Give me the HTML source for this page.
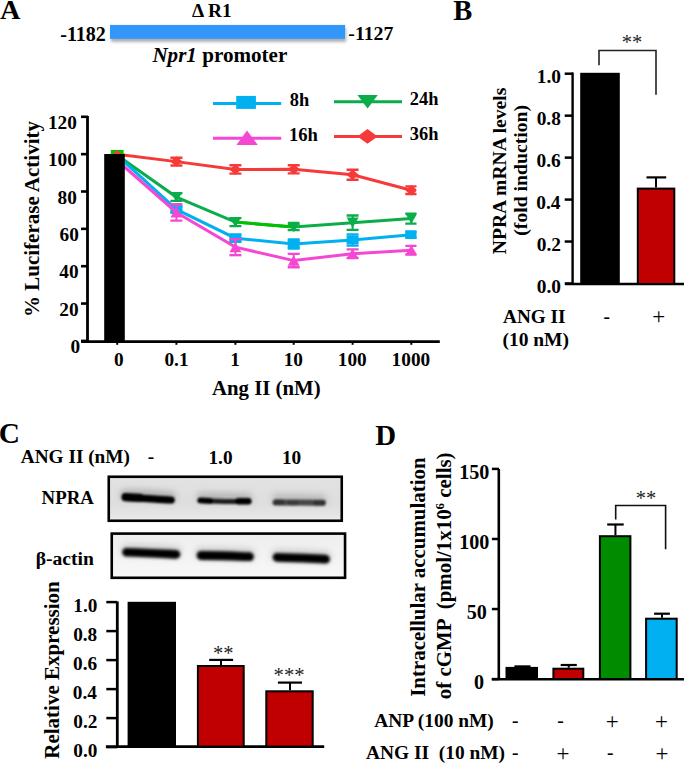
<!DOCTYPE html>
<html><head><meta charset="utf-8"><style>html,body{margin:0;padding:0;background:#fff;}svg{display:block;}</style></head>
<body><svg width="685" height="763" viewBox="0 0 685 763"><defs>
<filter id="sh" x="-5%" y="-50%" width="110%" height="250%"><feGaussianBlur in="SourceAlpha" stdDeviation="1.8"/><feOffset dx="0.8" dy="2.8" result="o"/><feFlood flood-color="#000" flood-opacity="0.32"/><feComposite in2="o" operator="in"/><feMerge><feMergeNode/><feMergeNode in="SourceGraphic"/></feMerge></filter>
<filter id="bl" filterUnits="userSpaceOnUse" x="100" y="470" width="260" height="120"><feGaussianBlur stdDeviation="1.1"/></filter><filter id="bl3" filterUnits="userSpaceOnUse" x="100" y="470" width="260" height="120"><feGaussianBlur stdDeviation="1.45"/></filter><filter id="bl2" filterUnits="userSpaceOnUse" x="100" y="470" width="260" height="120"><feGaussianBlur stdDeviation="3"/></filter>
<clipPath id="clipA"><rect x="0" y="80" width="416.5" height="300"/></clipPath>
<linearGradient id="g1" x1="0" y1="0" x2="0" y2="1"><stop offset="0" stop-color="#e2e2e2"/><stop offset="0.6" stop-color="#dedede"/><stop offset="0.92" stop-color="#e6e6e6"/><stop offset="1" stop-color="#f4f4f4"/></linearGradient>
<linearGradient id="g2" x1="0" y1="0" x2="0" y2="1"><stop offset="0" stop-color="#eeeeee"/><stop offset="1" stop-color="#f8f8f8"/></linearGradient>
</defs>
<rect width="685" height="763" fill="#fff"/>
<text x="-0.08" y="18.80" font-family="Liberation Serif" font-weight="bold" font-style="normal" font-size="28.3" fill="#000" style="white-space:pre">A</text>
<text x="192.01" y="17.20" font-family="Liberation Serif" font-weight="bold" font-style="normal" font-size="19.4" fill="#000" style="white-space:pre">Δ R1</text>
<text x="60.30" y="41.20" font-family="Liberation Serif" font-weight="bold" font-style="normal" font-size="20" fill="#000" style="white-space:pre">-1182</text>
<text x="348.31" y="40.00" font-family="Liberation Serif" font-weight="bold" font-style="normal" font-size="19.8" fill="#000" style="white-space:pre">-1127</text>
<rect x="110.00" y="24.90" width="235.10" height="14.00" fill="#3396fb" filter="url(#sh)"/>
<text x="152.38" y="62.2" font-family="Liberation Serif" font-weight="bold" font-size="21.1"><tspan font-style="italic">Npr1</tspan> promoter</text>
<line x1="213.00" y1="103.50" x2="281.20" y2="103.50" stroke="#00b0f0" stroke-width="3"/>
<rect x="236.20" y="95.90" width="19.70" height="13.00" fill="#00b0f0"/>
<text x="289.86" y="105.50" font-family="Liberation Serif" font-weight="bold" font-style="normal" font-size="18.4" fill="#000" style="white-space:pre">8h</text>
<line x1="213.00" y1="138.20" x2="281.20" y2="138.20" stroke="#f548d2" stroke-width="3"/>
<path d="M236.4,144.9 L247,130.6 L257.8,144.9 Z" fill="#f548d2" stroke="none" stroke-width="0"/>
<text x="289.01" y="140.70" font-family="Liberation Serif" font-weight="bold" font-style="normal" font-size="18.6" fill="#000" style="white-space:pre">16h</text>
<line x1="334.00" y1="101.80" x2="402.00" y2="101.80" stroke="#0aad4a" stroke-width="3"/>
<path d="M357.4,94.9 L367.6,108.6 L377.8,94.9 Z" fill="#0aad4a" stroke="none" stroke-width="0"/>
<text x="409.86" y="104.70" font-family="Liberation Serif" font-weight="bold" font-style="normal" font-size="18.4" fill="#000" style="white-space:pre">24h</text>
<line x1="334.00" y1="136.40" x2="402.00" y2="136.40" stroke="#f63a3a" stroke-width="3"/>
<path d="M357.4,136.4 L367.5,129.1 L377.6,136.4 L367.5,143.7 Z" fill="#f63a3a" stroke="none" stroke-width="0"/>
<text x="409.86" y="139.60" font-family="Liberation Serif" font-weight="bold" font-style="normal" font-size="18.4" fill="#000" style="white-space:pre">36h</text>
<line x1="81.00" y1="340.90" x2="88.00" y2="340.90" stroke="#000" stroke-width="2.6"/>
<text x="70.62" y="353.10" font-family="Liberation Serif" font-weight="bold" font-style="normal" font-size="19.3" fill="#000" style="white-space:pre">0</text>
<line x1="81.00" y1="303.55" x2="88.00" y2="303.55" stroke="#000" stroke-width="2.6"/>
<text x="59.37" y="315.75" font-family="Liberation Serif" font-weight="bold" font-style="normal" font-size="19.3" fill="#000" style="white-space:pre">20</text>
<line x1="81.00" y1="266.20" x2="88.00" y2="266.20" stroke="#000" stroke-width="2.6"/>
<text x="59.37" y="278.40" font-family="Liberation Serif" font-weight="bold" font-style="normal" font-size="19.3" fill="#000" style="white-space:pre">40</text>
<line x1="81.00" y1="228.85" x2="88.00" y2="228.85" stroke="#000" stroke-width="2.6"/>
<text x="59.57" y="241.05" font-family="Liberation Serif" font-weight="bold" font-style="normal" font-size="19.3" fill="#000" style="white-space:pre">60</text>
<line x1="81.00" y1="191.50" x2="88.00" y2="191.50" stroke="#000" stroke-width="2.6"/>
<text x="57.57" y="203.70" font-family="Liberation Serif" font-weight="bold" font-style="normal" font-size="19.3" fill="#000" style="white-space:pre">80</text>
<line x1="81.00" y1="154.15" x2="88.00" y2="154.15" stroke="#000" stroke-width="2.6"/>
<text x="47.92" y="166.35" font-family="Liberation Serif" font-weight="bold" font-style="normal" font-size="19.3" fill="#000" style="white-space:pre">100</text>
<line x1="81.00" y1="116.80" x2="88.00" y2="116.80" stroke="#000" stroke-width="2.6"/>
<text x="47.92" y="129.00" font-family="Liberation Serif" font-weight="bold" font-style="normal" font-size="19.3" fill="#000" style="white-space:pre">120</text>
<line x1="87.50" y1="116.00" x2="87.50" y2="342.60" stroke="#000" stroke-width="2.8"/>
<line x1="81.00" y1="341.60" x2="439.80" y2="341.60" stroke="#000" stroke-width="2.6"/>
<line x1="117.20" y1="342.00" x2="117.20" y2="344.80" stroke="#000" stroke-width="2"/>
<text x="113.88" y="365.60" font-family="Liberation Serif" font-weight="bold" font-style="normal" font-size="19.3" fill="#000" style="white-space:pre">0</text>
<line x1="176.40" y1="342.00" x2="176.40" y2="344.80" stroke="#000" stroke-width="2"/>
<text x="164.43" y="365.60" font-family="Liberation Serif" font-weight="bold" font-style="normal" font-size="19.3" fill="#000" style="white-space:pre">0.1</text>
<line x1="235.40" y1="342.00" x2="235.40" y2="344.80" stroke="#000" stroke-width="2"/>
<text x="230.29" y="365.60" font-family="Liberation Serif" font-weight="bold" font-style="normal" font-size="19.3" fill="#000" style="white-space:pre">1</text>
<line x1="293.70" y1="342.00" x2="293.70" y2="344.80" stroke="#000" stroke-width="2"/>
<text x="283.66" y="365.60" font-family="Liberation Serif" font-weight="bold" font-style="normal" font-size="19.3" fill="#000" style="white-space:pre">10</text>
<line x1="352.60" y1="342.00" x2="352.60" y2="344.80" stroke="#000" stroke-width="2"/>
<text x="337.74" y="365.60" font-family="Liberation Serif" font-weight="bold" font-style="normal" font-size="19.3" fill="#000" style="white-space:pre">100</text>
<line x1="411.30" y1="342.00" x2="411.30" y2="344.80" stroke="#000" stroke-width="2"/>
<text x="391.61" y="365.60" font-family="Liberation Serif" font-weight="bold" font-style="normal" font-size="19.3" fill="#000" style="white-space:pre">1000</text>
<text x="212.02" y="395.00" font-family="Liberation Serif" font-weight="bold" font-style="normal" font-size="20.8" fill="#000" style="white-space:pre">Ang II (nM)</text>
<text transform="translate(38.80,316.96) rotate(-90)" x="0" y="0" font-family="Liberation Serif" font-weight="bold" font-style="normal" font-size="21" fill="#000">% Luciferase Activity</text>
<g clip-path="url(#clipA)">
<polyline points="117.20,154.15 176.40,161.62 235.40,169.46 293.70,169.28 352.60,174.69 411.30,190.19" fill="none" stroke="#f63a3a" stroke-width="3"/>
<line x1="176.40" y1="157.72" x2="176.40" y2="165.52" stroke="#f63a3a" stroke-width="2"/>
<line x1="170.40" y1="157.72" x2="182.40" y2="157.72" stroke="#f63a3a" stroke-width="2.4"/>
<line x1="170.40" y1="165.52" x2="182.40" y2="165.52" stroke="#f63a3a" stroke-width="2.4"/>
<path d="M170.40,161.62 L176.40,156.37 L182.40,161.62 L176.40,166.87 Z" fill="#f63a3a" stroke="none" stroke-width="0"/>
<line x1="235.40" y1="165.26" x2="235.40" y2="173.66" stroke="#f63a3a" stroke-width="2"/>
<line x1="229.40" y1="165.26" x2="241.40" y2="165.26" stroke="#f63a3a" stroke-width="2.4"/>
<line x1="229.40" y1="173.66" x2="241.40" y2="173.66" stroke="#f63a3a" stroke-width="2.4"/>
<path d="M229.40,169.46 L235.40,164.21 L241.40,169.46 L235.40,174.71 Z" fill="#f63a3a" stroke="none" stroke-width="0"/>
<line x1="293.70" y1="165.18" x2="293.70" y2="173.38" stroke="#f63a3a" stroke-width="2"/>
<line x1="287.70" y1="165.18" x2="299.70" y2="165.18" stroke="#f63a3a" stroke-width="2.4"/>
<line x1="287.70" y1="173.38" x2="299.70" y2="173.38" stroke="#f63a3a" stroke-width="2.4"/>
<path d="M287.70,169.28 L293.70,164.03 L299.70,169.28 L293.70,174.53 Z" fill="#f63a3a" stroke="none" stroke-width="0"/>
<line x1="352.60" y1="169.69" x2="352.60" y2="179.69" stroke="#f63a3a" stroke-width="2"/>
<line x1="346.60" y1="169.69" x2="358.60" y2="169.69" stroke="#f63a3a" stroke-width="2.4"/>
<line x1="346.60" y1="179.69" x2="358.60" y2="179.69" stroke="#f63a3a" stroke-width="2.4"/>
<path d="M346.60,174.69 L352.60,169.44 L358.60,174.69 L352.60,179.94 Z" fill="#f63a3a" stroke="none" stroke-width="0"/>
<line x1="411.30" y1="186.39" x2="411.30" y2="193.99" stroke="#f63a3a" stroke-width="2"/>
<line x1="405.30" y1="186.39" x2="417.30" y2="186.39" stroke="#f63a3a" stroke-width="2.4"/>
<line x1="405.30" y1="193.99" x2="417.30" y2="193.99" stroke="#f63a3a" stroke-width="2.4"/>
<path d="M405.30,190.19 L411.30,184.94 L417.30,190.19 L411.30,195.44 Z" fill="#f63a3a" stroke="none" stroke-width="0"/>
<polyline points="117.20,155.27 176.40,197.10 235.40,222.13 293.70,226.98 352.60,222.69 411.30,218.58" fill="none" stroke="#0aad4a" stroke-width="3"/>
<line x1="235.40" y1="222.13" x2="293.70" y2="226.98" stroke="#00c000" stroke-width="3"/>
<line x1="176.40" y1="193.30" x2="176.40" y2="200.90" stroke="#0aad4a" stroke-width="2"/>
<line x1="170.40" y1="193.30" x2="182.40" y2="193.30" stroke="#0aad4a" stroke-width="2.4"/>
<line x1="170.40" y1="200.90" x2="182.40" y2="200.90" stroke="#0aad4a" stroke-width="2.4"/>
<path d="M170.40,191.95 L176.40,202.25 L182.40,191.95 Z" fill="#0aad4a" stroke="none" stroke-width="0"/>
<line x1="235.40" y1="218.13" x2="235.40" y2="226.13" stroke="#0aad4a" stroke-width="2"/>
<line x1="229.40" y1="218.13" x2="241.40" y2="218.13" stroke="#0aad4a" stroke-width="2.4"/>
<line x1="229.40" y1="226.13" x2="241.40" y2="226.13" stroke="#0aad4a" stroke-width="2.4"/>
<path d="M229.40,216.98 L235.40,227.28 L241.40,216.98 Z" fill="#0aad4a" stroke="none" stroke-width="0"/>
<line x1="293.70" y1="223.88" x2="293.70" y2="230.08" stroke="#0aad4a" stroke-width="2"/>
<line x1="287.70" y1="223.88" x2="299.70" y2="223.88" stroke="#0aad4a" stroke-width="2.4"/>
<line x1="287.70" y1="230.08" x2="299.70" y2="230.08" stroke="#0aad4a" stroke-width="2.4"/>
<path d="M287.70,221.83 L293.70,232.13 L299.70,221.83 Z" fill="#0aad4a" stroke="none" stroke-width="0"/>
<line x1="352.60" y1="215.49" x2="352.60" y2="229.89" stroke="#0aad4a" stroke-width="2"/>
<line x1="346.60" y1="215.49" x2="358.60" y2="215.49" stroke="#0aad4a" stroke-width="2.4"/>
<line x1="346.60" y1="229.89" x2="358.60" y2="229.89" stroke="#0aad4a" stroke-width="2.4"/>
<path d="M346.60,217.54 L352.60,227.84 L358.60,217.54 Z" fill="#0aad4a" stroke="none" stroke-width="0"/>
<line x1="411.30" y1="213.58" x2="411.30" y2="223.58" stroke="#0aad4a" stroke-width="2"/>
<line x1="405.30" y1="213.58" x2="417.30" y2="213.58" stroke="#0aad4a" stroke-width="2.4"/>
<line x1="405.30" y1="223.58" x2="417.30" y2="223.58" stroke="#0aad4a" stroke-width="2.4"/>
<path d="M405.30,213.43 L411.30,223.73 L417.30,213.43 Z" fill="#0aad4a" stroke="none" stroke-width="0"/>
<polyline points="117.20,155.46 176.40,209.43 235.40,238.19 293.70,243.98 352.60,240.05 411.30,234.64" fill="none" stroke="#00b0f0" stroke-width="3"/>
<line x1="176.40" y1="206.43" x2="176.40" y2="212.43" stroke="#00b0f0" stroke-width="2"/>
<line x1="170.40" y1="206.43" x2="182.40" y2="206.43" stroke="#00b0f0" stroke-width="2.4"/>
<line x1="170.40" y1="212.43" x2="182.40" y2="212.43" stroke="#00b0f0" stroke-width="2.4"/>
<rect x="170.40" y="205.13" width="12.00" height="8.60" fill="#00b0f0"/>
<line x1="235.40" y1="234.49" x2="235.40" y2="241.89" stroke="#00b0f0" stroke-width="2"/>
<line x1="229.40" y1="234.49" x2="241.40" y2="234.49" stroke="#00b0f0" stroke-width="2.4"/>
<line x1="229.40" y1="241.89" x2="241.40" y2="241.89" stroke="#00b0f0" stroke-width="2.4"/>
<rect x="229.40" y="233.89" width="12.00" height="8.60" fill="#00b0f0"/>
<line x1="293.70" y1="239.48" x2="293.70" y2="248.48" stroke="#00b0f0" stroke-width="2"/>
<line x1="287.70" y1="239.48" x2="299.70" y2="239.48" stroke="#00b0f0" stroke-width="2.4"/>
<line x1="287.70" y1="248.48" x2="299.70" y2="248.48" stroke="#00b0f0" stroke-width="2.4"/>
<rect x="287.70" y="239.68" width="12.00" height="8.60" fill="#00b0f0"/>
<line x1="352.60" y1="234.45" x2="352.60" y2="245.65" stroke="#00b0f0" stroke-width="2"/>
<line x1="346.60" y1="234.45" x2="358.60" y2="234.45" stroke="#00b0f0" stroke-width="2.4"/>
<line x1="346.60" y1="245.65" x2="358.60" y2="245.65" stroke="#00b0f0" stroke-width="2.4"/>
<rect x="346.60" y="235.75" width="12.00" height="8.60" fill="#00b0f0"/>
<line x1="411.30" y1="231.84" x2="411.30" y2="237.44" stroke="#00b0f0" stroke-width="2"/>
<line x1="405.30" y1="231.84" x2="417.30" y2="231.84" stroke="#00b0f0" stroke-width="2.4"/>
<line x1="405.30" y1="237.44" x2="417.30" y2="237.44" stroke="#00b0f0" stroke-width="2.4"/>
<rect x="405.30" y="230.34" width="12.00" height="8.60" fill="#00b0f0"/>
<polyline points="117.20,160.50 176.40,212.42 235.40,247.15 293.70,260.60 352.60,253.69 411.30,250.14" fill="none" stroke="#f548d2" stroke-width="3"/>
<line x1="176.40" y1="204.22" x2="176.40" y2="220.62" stroke="#f548d2" stroke-width="2"/>
<line x1="170.40" y1="204.22" x2="182.40" y2="204.22" stroke="#f548d2" stroke-width="2.4"/>
<line x1="170.40" y1="220.62" x2="182.40" y2="220.62" stroke="#f548d2" stroke-width="2.4"/>
<path d="M170.40,217.57 L176.40,207.27 L182.40,217.57 Z" fill="#f548d2" stroke="none" stroke-width="0"/>
<line x1="235.40" y1="239.15" x2="235.40" y2="255.15" stroke="#f548d2" stroke-width="2"/>
<line x1="229.40" y1="239.15" x2="241.40" y2="239.15" stroke="#f548d2" stroke-width="2.4"/>
<line x1="229.40" y1="255.15" x2="241.40" y2="255.15" stroke="#f548d2" stroke-width="2.4"/>
<path d="M229.40,252.30 L235.40,242.00 L241.40,252.30 Z" fill="#f548d2" stroke="none" stroke-width="0"/>
<line x1="293.70" y1="253.90" x2="293.70" y2="267.30" stroke="#f548d2" stroke-width="2"/>
<line x1="287.70" y1="253.90" x2="299.70" y2="253.90" stroke="#f548d2" stroke-width="2.4"/>
<line x1="287.70" y1="267.30" x2="299.70" y2="267.30" stroke="#f548d2" stroke-width="2.4"/>
<path d="M287.70,265.75 L293.70,255.45 L299.70,265.75 Z" fill="#f548d2" stroke="none" stroke-width="0"/>
<line x1="352.60" y1="249.39" x2="352.60" y2="257.99" stroke="#f548d2" stroke-width="2"/>
<line x1="346.60" y1="249.39" x2="358.60" y2="249.39" stroke="#f548d2" stroke-width="2.4"/>
<line x1="346.60" y1="257.99" x2="358.60" y2="257.99" stroke="#f548d2" stroke-width="2.4"/>
<path d="M346.60,258.84 L352.60,248.54 L358.60,258.84 Z" fill="#f548d2" stroke="none" stroke-width="0"/>
<line x1="411.30" y1="245.84" x2="411.30" y2="254.44" stroke="#f548d2" stroke-width="2"/>
<line x1="405.30" y1="245.84" x2="417.30" y2="245.84" stroke="#f548d2" stroke-width="2.4"/>
<line x1="405.30" y1="254.44" x2="417.30" y2="254.44" stroke="#f548d2" stroke-width="2.4"/>
<path d="M405.30,255.29 L411.30,244.99 L417.30,255.29 Z" fill="#f548d2" stroke="none" stroke-width="0"/>
<rect x="110.80" y="149.90" width="12.80" height="4.50" fill="#00c000"/>
<path d="M111.70,155.20 L117.20,149.95 L122.70,155.20 L117.20,160.45 Z" fill="#f63a3a" stroke="none" stroke-width="0"/>
</g>
<rect x="104.20" y="154.00" width="20.60" height="187.60" fill="#000"/>
<text x="453.27" y="19.60" font-family="Liberation Serif" font-weight="bold" font-style="normal" font-size="28.5" fill="#000" style="white-space:pre">B</text>
<line x1="564.70" y1="283.50" x2="573.00" y2="283.50" stroke="#000" stroke-width="2.5"/>
<text x="536.73" y="292.70" font-family="Liberation Serif" font-weight="bold" font-style="normal" font-size="19.4" fill="#000" style="white-space:pre">0.0</text>
<line x1="564.70" y1="241.54" x2="573.00" y2="241.54" stroke="#000" stroke-width="2.5"/>
<text x="536.82" y="250.74" font-family="Liberation Serif" font-weight="bold" font-style="normal" font-size="19.4" fill="#000" style="white-space:pre">0.2</text>
<line x1="564.70" y1="199.58" x2="573.00" y2="199.58" stroke="#000" stroke-width="2.5"/>
<text x="536.34" y="208.78" font-family="Liberation Serif" font-weight="bold" font-style="normal" font-size="19.4" fill="#000" style="white-space:pre">0.4</text>
<line x1="564.70" y1="157.62" x2="573.00" y2="157.62" stroke="#000" stroke-width="2.5"/>
<text x="536.53" y="166.82" font-family="Liberation Serif" font-weight="bold" font-style="normal" font-size="19.4" fill="#000" style="white-space:pre">0.6</text>
<line x1="564.70" y1="115.66" x2="573.00" y2="115.66" stroke="#000" stroke-width="2.5"/>
<text x="536.63" y="124.86" font-family="Liberation Serif" font-weight="bold" font-style="normal" font-size="19.4" fill="#000" style="white-space:pre">0.8</text>
<line x1="564.70" y1="73.70" x2="573.00" y2="73.70" stroke="#000" stroke-width="2.5"/>
<text x="536.73" y="82.90" font-family="Liberation Serif" font-weight="bold" font-style="normal" font-size="19.4" fill="#000" style="white-space:pre">1.0</text>
<line x1="572.60" y1="72.50" x2="572.60" y2="285.00" stroke="#000" stroke-width="2.4"/>
<line x1="565.00" y1="284.00" x2="684.00" y2="284.00" stroke="#000" stroke-width="2.6"/>
<rect x="580.20" y="72.80" width="39.60" height="211.20" fill="#000"/>
<rect x="637.80" y="188.60" width="36.50" height="95.40" fill="#c00000" stroke="#000" stroke-width="2"/>
<line x1="656.00" y1="187.60" x2="656.00" y2="177.40" stroke="#000" stroke-width="2"/>
<line x1="646.50" y1="177.40" x2="666.20" y2="177.40" stroke="#000" stroke-width="2.2"/>
<path d="M599,65.3 L599,50.5 L656,50.5 L656,94.7" fill="none" stroke="#222" stroke-width="1.6"/>
<text x="621.77" y="48.83" font-family="Liberation Serif" font-weight="normal" font-style="normal" font-size="20.5" fill="#222" style="white-space:pre">**</text>
<text transform="translate(506.20,254.15) rotate(-90)" x="0" y="0" font-family="Liberation Serif" font-weight="bold" font-style="normal" font-size="19.6" fill="#000">NPRA mRNA levels</text>
<text transform="translate(527.20,235.70) rotate(-90)" x="0" y="0" font-family="Liberation Serif" font-weight="bold" font-style="normal" font-size="19.7" fill="#000">(fold induction)</text>
<text x="503.11" y="322.90" font-family="Liberation Serif" font-weight="bold" font-style="normal" font-size="19.2" fill="#000" style="white-space:pre">ANG II</text>
<text x="502.42" y="345.50" font-family="Liberation Serif" font-weight="bold" font-style="normal" font-size="19.5" fill="#000" style="white-space:pre">(10 nM)</text>
<text x="603.48" y="323.00" font-family="Liberation Serif" font-weight="bold" font-style="normal" font-size="19.5" fill="#000" style="white-space:pre">-</text>
<text x="652.30" y="324.20" font-family="Liberation Serif" font-weight="normal" font-style="normal" font-size="23" fill="#000" style="white-space:pre">+</text>
<text x="-1.17" y="443.31" font-family="Liberation Serif" font-weight="bold" font-style="normal" font-size="29.3" fill="#000" style="white-space:pre">C</text>
<text x="20.81" y="462.50" font-family="Liberation Serif" font-weight="bold" font-style="normal" font-size="19.25" fill="#000" style="white-space:pre">ANG II (nM)</text>
<text x="147.82" y="462.50" font-family="Liberation Serif" font-weight="bold" font-style="normal" font-size="19.3" fill="#000" style="white-space:pre">-</text>
<text x="208.45" y="463.50" font-family="Liberation Serif" font-weight="bold" font-style="normal" font-size="19.3" fill="#000" style="white-space:pre">1.0</text>
<text x="281.96" y="463.50" font-family="Liberation Serif" font-weight="bold" font-style="normal" font-size="19.3" fill="#000" style="white-space:pre">10</text>
<text x="41.62" y="504.10" font-family="Liberation Serif" font-weight="bold" font-style="normal" font-size="18.8" fill="#000" style="white-space:pre">NPRA</text>
<text x="35.72" y="565.00" font-family="Liberation Serif" font-weight="bold" font-style="normal" font-size="19.6" fill="#000" style="white-space:pre">β-actin</text>
<rect x="108.75" y="476.75" width="233" height="44" fill="url(#g1)" stroke="#000" stroke-width="2.6"/>
<rect x="111.75" y="533.6" width="233.3" height="44.2" fill="url(#g2)" stroke="#000" stroke-width="2.6"/>
<g filter="url(#bl2)" opacity="0.4">
<path d="M125,494.5 C140,494.5 160,495.5 171,497" fill="none" stroke="#666" stroke-width="10" stroke-linecap="round"/>
<path d="M201,497 C215,497 235,497.5 248,498" fill="none" stroke="#777" stroke-width="9" stroke-linecap="round"/>
<path d="M277,498.5 C290,498.5 310,499 322,499.5" fill="none" stroke="#888" stroke-width="10" stroke-linecap="round"/>
<path d="M127,550 C145,550 165,551 176,552" fill="none" stroke="#999" stroke-width="12" stroke-linecap="round"/>
<path d="M201,553 C220,553 235,553.5 249.5,554" fill="none" stroke="#999" stroke-width="12" stroke-linecap="round"/>
<path d="M277,555 C295,555 310,556 325.5,556.5" fill="none" stroke="#999" stroke-width="12" stroke-linecap="round"/>
</g>
<g filter="url(#bl)">
<path d="M125.5,497.4 C140,498 160,499.5 171.2,500" fill="none" stroke="#000" stroke-width="7.2" stroke-linecap="round"/>
<path d="M125.5,497.2 L140,497.8" fill="none" stroke="#000" stroke-width="8.2" stroke-linecap="round"/>
<path d="M200,500.6 C212,501.2 225,501.8 238,501.5" fill="none" stroke="#1c1c1c" stroke-width="5" stroke-linecap="round"/>
<path d="M200.5,500.4 L210,500.8" fill="none" stroke="#000" stroke-width="5.8" stroke-linecap="round"/>
<path d="M238.5,501.3 L248.3,501.3" fill="none" stroke="#000" stroke-width="6.6" stroke-linecap="round"/>
<path d="M275.5,502.4 C290,502.4 310,502.6 323,502.8" fill="none" stroke="#474747" stroke-width="6" stroke-linecap="round"/>
<path d="M276,502.3 L282,502.3" fill="none" stroke="#333" stroke-width="5.4" stroke-linecap="round"/>
<path d="M290,502.6 L296,502.6" fill="none" stroke="#383838" stroke-width="5.2" stroke-linecap="round"/>
<path d="M316,502.9 L322.5,502.9" fill="none" stroke="#333" stroke-width="5.4" stroke-linecap="round"/>
</g>
<g filter="url(#bl3)">
<path d="M126.5,552.2 C145,552.6 165,553.8 176,554.4" fill="none" stroke="#000" stroke-width="8.6" stroke-linecap="round"/>
<path d="M201,555.5 C220,555.6 235,556.2 249.5,556.7" fill="none" stroke="#000" stroke-width="8.8" stroke-linecap="round"/>
<path d="M277,557.3 C295,557.6 310,558.5 325.5,559.2" fill="none" stroke="#000" stroke-width="8.8" stroke-linecap="round"/>
</g>
<line x1="106.30" y1="747.10" x2="117.30" y2="747.10" stroke="#000" stroke-width="2.5"/>
<text x="73.25" y="757.20" font-family="Liberation Serif" font-weight="bold" font-style="normal" font-size="19.3" fill="#000" style="white-space:pre">0.0</text>
<line x1="106.30" y1="718.10" x2="117.30" y2="718.10" stroke="#000" stroke-width="2.5"/>
<text x="73.34" y="728.20" font-family="Liberation Serif" font-weight="bold" font-style="normal" font-size="19.3" fill="#000" style="white-space:pre">0.2</text>
<line x1="106.30" y1="689.10" x2="117.30" y2="689.10" stroke="#000" stroke-width="2.5"/>
<text x="72.86" y="699.20" font-family="Liberation Serif" font-weight="bold" font-style="normal" font-size="19.3" fill="#000" style="white-space:pre">0.4</text>
<line x1="106.30" y1="660.10" x2="117.30" y2="660.10" stroke="#000" stroke-width="2.5"/>
<text x="73.05" y="670.20" font-family="Liberation Serif" font-weight="bold" font-style="normal" font-size="19.3" fill="#000" style="white-space:pre">0.6</text>
<line x1="106.30" y1="631.10" x2="117.30" y2="631.10" stroke="#000" stroke-width="2.5"/>
<text x="73.15" y="641.20" font-family="Liberation Serif" font-weight="bold" font-style="normal" font-size="19.3" fill="#000" style="white-space:pre">0.8</text>
<line x1="106.30" y1="602.10" x2="117.30" y2="602.10" stroke="#000" stroke-width="2.5"/>
<text x="73.25" y="612.20" font-family="Liberation Serif" font-weight="bold" font-style="normal" font-size="19.3" fill="#000" style="white-space:pre">1.0</text>
<line x1="117.30" y1="601.50" x2="117.30" y2="748.00" stroke="#000" stroke-width="2.8"/>
<line x1="105.90" y1="746.60" x2="324.20" y2="746.60" stroke="#000" stroke-width="2.6"/>
<rect x="127.60" y="601.80" width="48.40" height="145.00" fill="#000"/>
<rect x="197.90" y="666.00" width="45.80" height="80.60" fill="#c00000" stroke="#000" stroke-width="2"/>
<line x1="221.00" y1="665.00" x2="221.00" y2="659.90" stroke="#000" stroke-width="2"/>
<line x1="209.20" y1="659.90" x2="233.10" y2="659.90" stroke="#000" stroke-width="2.2"/>
<rect x="266.30" y="691.30" width="46.40" height="55.30" fill="#c00000" stroke="#000" stroke-width="2"/>
<line x1="290.00" y1="690.30" x2="290.00" y2="682.60" stroke="#000" stroke-width="2"/>
<line x1="277.90" y1="682.60" x2="302.00" y2="682.60" stroke="#000" stroke-width="2.2"/>
<text x="212.88" y="659.83" font-family="Liberation Serif" font-weight="normal" font-style="normal" font-size="20.5" fill="#222" style="white-space:pre">**</text>
<text x="273.56" y="682.06" font-family="Liberation Serif" font-weight="normal" font-style="normal" font-size="20.7" fill="#222" style="white-space:pre">***</text>
<text transform="translate(59.40,758.73) rotate(-90)" x="0" y="0" font-family="Liberation Serif" font-weight="bold" font-style="normal" font-size="21" fill="#000">Relative Expression</text>
<text x="375.22" y="444.90" font-family="Liberation Serif" font-weight="bold" font-style="normal" font-size="28.9" fill="#000" style="white-space:pre">D</text>
<line x1="491.90" y1="679.10" x2="499.00" y2="679.10" stroke="#000" stroke-width="2.5"/>
<text x="474.05" y="688.70" font-family="Liberation Serif" font-weight="bold" font-style="normal" font-size="20.1" fill="#000" style="white-space:pre">0</text>
<line x1="491.90" y1="609.04" x2="499.00" y2="609.04" stroke="#000" stroke-width="2.5"/>
<text x="466.70" y="618.64" font-family="Liberation Serif" font-weight="bold" font-style="normal" font-size="20.1" fill="#000" style="white-space:pre">50</text>
<line x1="491.90" y1="538.97" x2="499.00" y2="538.97" stroke="#000" stroke-width="2.5"/>
<text x="459.25" y="548.57" font-family="Liberation Serif" font-weight="bold" font-style="normal" font-size="20.1" fill="#000" style="white-space:pre">100</text>
<line x1="491.90" y1="468.91" x2="499.00" y2="468.91" stroke="#000" stroke-width="2.5"/>
<text x="459.25" y="478.51" font-family="Liberation Serif" font-weight="bold" font-style="normal" font-size="20.1" fill="#000" style="white-space:pre">150</text>
<line x1="498.80" y1="469.00" x2="498.80" y2="680.00" stroke="#000" stroke-width="2.6"/>
<line x1="491.70" y1="679.20" x2="684.00" y2="679.20" stroke="#000" stroke-width="2.6"/>
<rect x="506.50" y="667.90" width="30.50" height="11.10" fill="#000" stroke="#000" stroke-width="2"/>
<line x1="522.45" y1="666.90" x2="522.45" y2="666.40" stroke="#000" stroke-width="2"/>
<line x1="514.40" y1="666.40" x2="530.50" y2="666.40" stroke="#000" stroke-width="2.2"/>
<rect x="553.40" y="668.70" width="29.90" height="10.30" fill="#c00000" stroke="#000" stroke-width="2"/>
<line x1="568.75" y1="667.70" x2="568.75" y2="665.00" stroke="#000" stroke-width="2"/>
<line x1="560.70" y1="665.00" x2="576.80" y2="665.00" stroke="#000" stroke-width="2.2"/>
<rect x="599.90" y="536.20" width="30.50" height="142.80" fill="#008c00" stroke="#000" stroke-width="2"/>
<line x1="615.45" y1="535.20" x2="615.45" y2="524.50" stroke="#000" stroke-width="2"/>
<line x1="607.20" y1="524.50" x2="623.70" y2="524.50" stroke="#000" stroke-width="2.2"/>
<rect x="646.10" y="618.70" width="30.60" height="60.30" fill="#00b0f0" stroke="#000" stroke-width="2"/>
<line x1="662.00" y1="617.70" x2="662.00" y2="613.70" stroke="#000" stroke-width="2"/>
<line x1="654.10" y1="613.70" x2="669.90" y2="613.70" stroke="#000" stroke-width="2.2"/>
<path d="M615.7,519.4 L615.7,505.5 L665.6,505.5 L665.6,549.3" fill="none" stroke="#111" stroke-width="1.6"/>
<text x="635.77" y="505.13" font-family="Liberation Serif" font-weight="normal" font-style="normal" font-size="20.5" fill="#222" style="white-space:pre">**</text>
<text transform="translate(425.20,696.76) rotate(-90)" x="0" y="0" font-family="Liberation Serif" font-weight="bold" font-style="normal" font-size="20.9" fill="#000">Intracellular accumulation</text>
<text transform="translate(451.4,575.80) rotate(-90)" x="0" y="0" text-anchor="middle" font-family="Liberation Serif" font-weight="bold" font-size="20.9" xml:space="preserve">of cGMP  (pmol/1x10<tspan font-size="13" dy="-7">6</tspan><tspan dy="7"> cells)</tspan></text>
<text x="374.21" y="726.80" font-family="Liberation Serif" font-weight="bold" font-style="normal" font-size="19.4" fill="#000" style="white-space:pre">ANP (100 nM)</text>
<text x="366.01" y="758.80" font-family="Liberation Serif" font-weight="bold" font-style="normal" font-size="19.4" fill="#000" style="white-space:pre">ANG II  (10 nM)</text>
<text x="511.88" y="726.80" font-family="Liberation Serif" font-weight="bold" font-style="normal" font-size="19.5" fill="#000" style="white-space:pre">-</text>
<text x="557.28" y="726.80" font-family="Liberation Serif" font-weight="bold" font-style="normal" font-size="19.5" fill="#000" style="white-space:pre">-</text>
<text x="605.70" y="729.00" font-family="Liberation Serif" font-weight="normal" font-style="normal" font-size="23" fill="#000" style="white-space:pre">+</text>
<text x="655.10" y="729.00" font-family="Liberation Serif" font-weight="normal" font-style="normal" font-size="23" fill="#000" style="white-space:pre">+</text>
<text x="511.88" y="758.80" font-family="Liberation Serif" font-weight="bold" font-style="normal" font-size="19.5" fill="#000" style="white-space:pre">-</text>
<text x="556.60" y="760.80" font-family="Liberation Serif" font-weight="normal" font-style="normal" font-size="23" fill="#000" style="white-space:pre">+</text>
<text x="607.08" y="758.80" font-family="Liberation Serif" font-weight="bold" font-style="normal" font-size="19.5" fill="#000" style="white-space:pre">-</text>
<text x="655.50" y="760.80" font-family="Liberation Serif" font-weight="normal" font-style="normal" font-size="23" fill="#000" style="white-space:pre">+</text>
</svg></body></html>
